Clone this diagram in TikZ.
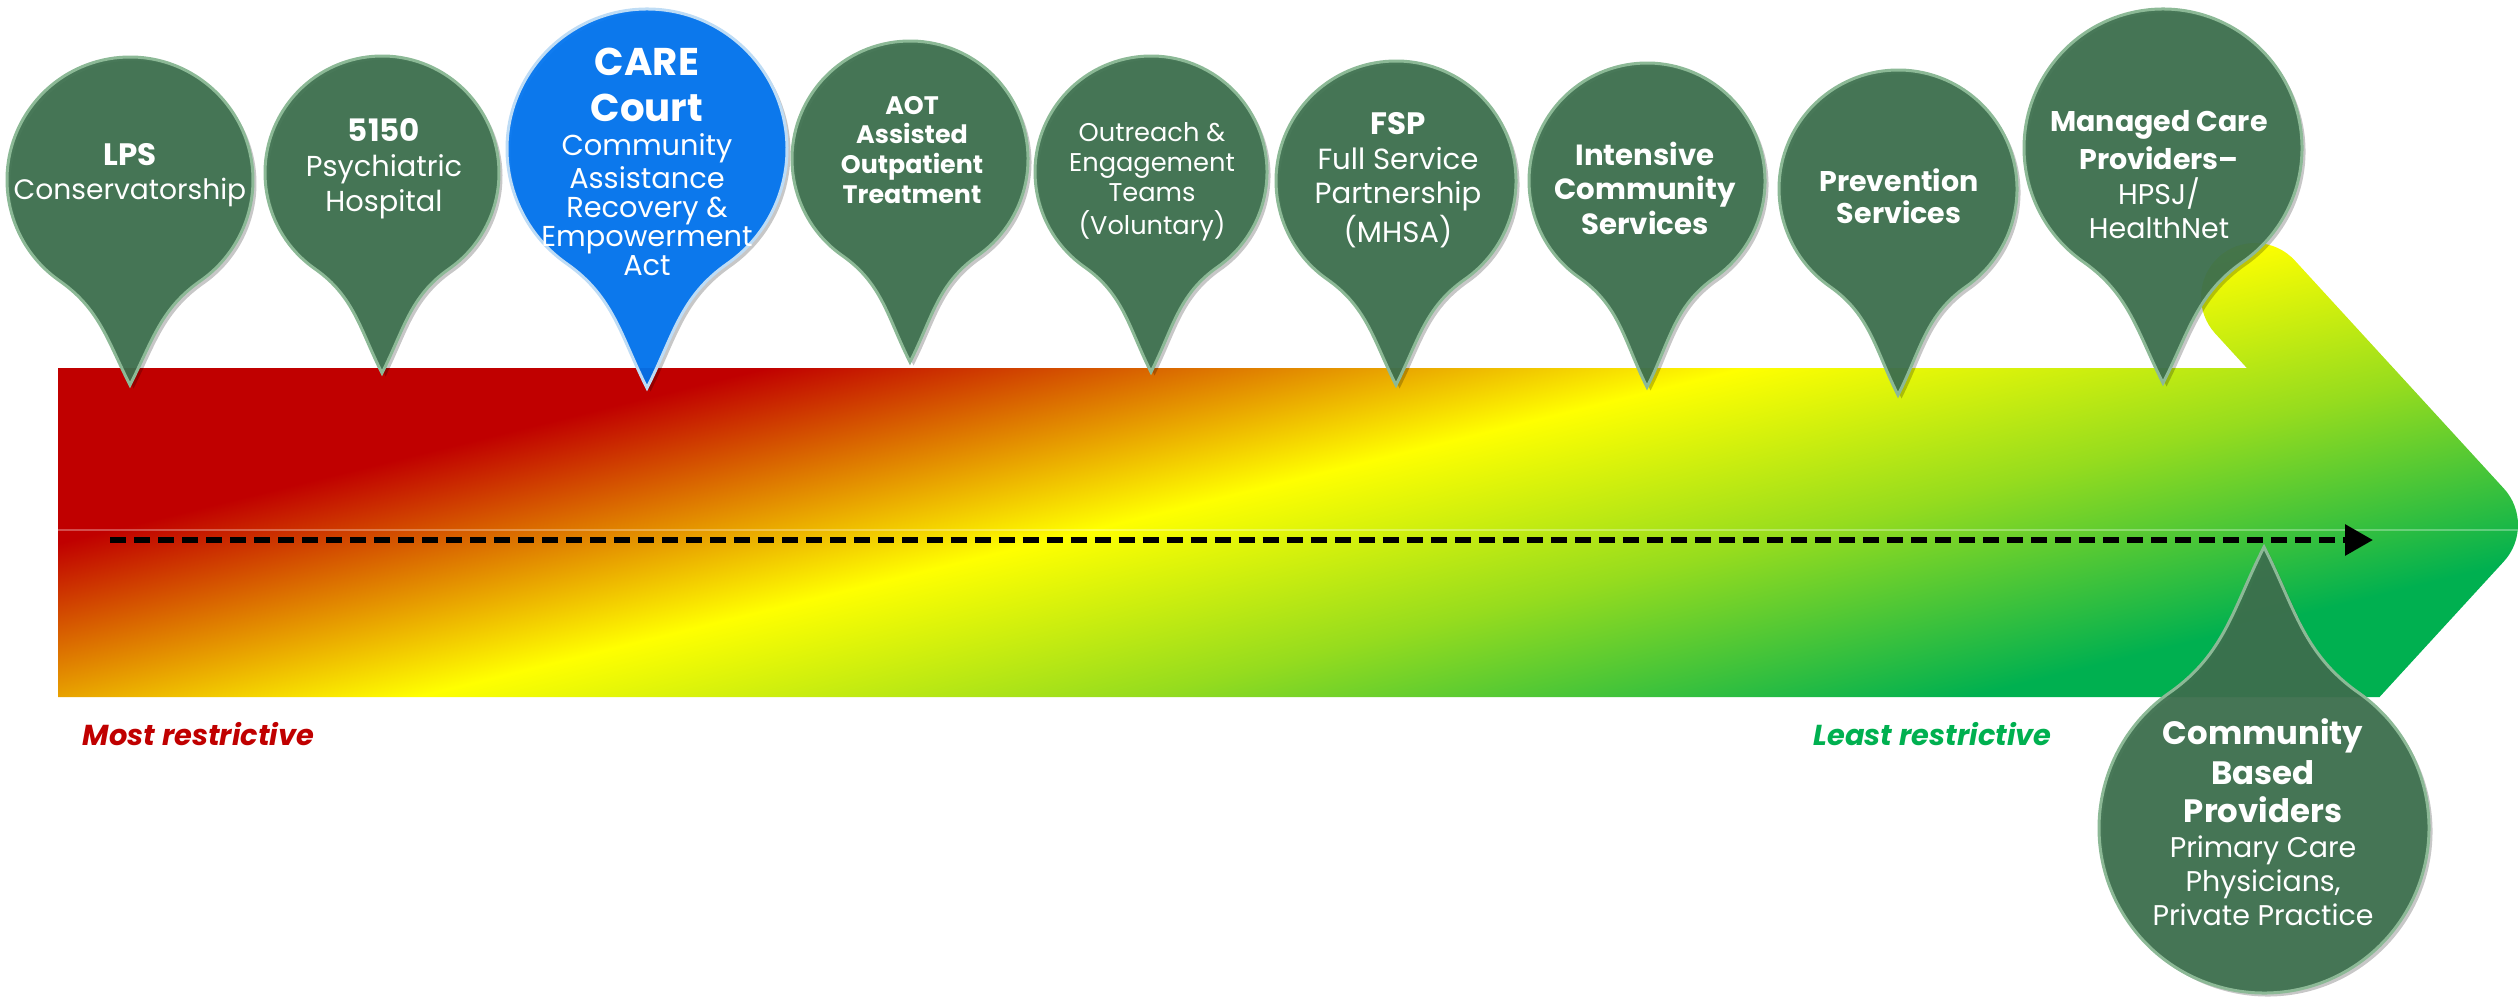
\documentclass[tikz,border=0pt]{standalone}
\usepackage{fontspec}
\setmainfont{Poppins}
\usetikzlibrary{arrows.meta,shadows}
\definecolor{arred}{RGB}{192,0,0}
\definecolor{aryellow}{RGB}{255,255,0}
\definecolor{armid}{RGB}{150,220,30}
\definecolor{argreen}{RGB}{0,176,80}
\definecolor{pingreen}{RGB}{61,112,78}
\definecolor{pinedge}{RGB}{140,185,150}
\definecolor{careblue}{RGB}{0,115,238}
\definecolor{careedge}{RGB}{190,220,245}
\pgfdeclarehorizontalshading{restr}{100bp}{color(0bp)=(arred); color(44.535bp)=(arred); color(49.073bp)=(aryellow); color(52.42bp)=(armid); color(56.265bp)=(argreen); color(100bp)=(argreen)}
\newcommand{\pinup}[5]{\path[#1,shift={(#2,#3)}] (0,-#5) to[out=117,in=-35] (235:#4) arc[start angle=235,end angle=-55,radius=#4] to[out=215,in=63] (0,-#5) -- cycle;}
\newcommand{\pindown}[5]{\path[#1,shift={(#2,#3)}] (0,#5) to[out=-117,in=35] (125:#4) arc[start angle=-235,end angle=55,radius=#4] to[out=145,in=-63] (0,#5) -- cycle;}
\newcommand{\fs}[2]{\fontsize{#1}{#2}\selectfont}
\begin{document}
\begin{tikzpicture}[x=0.01cm,y=0.01cm,
  pinbase/.style={line width=0.03cm, fill opacity=0.94,
    drop shadow={shadow xshift=0.035cm, shadow yshift=-0.035cm, opacity=0.22, fill=black}},
  greenpin/.style={pinbase, fill=pingreen, draw=pinedge},
  bluepin/.style={pinbase, fill=careblue, draw=careedge},
  pintext/.style={text=white, align=center, inner sep=0pt},
  endlabel/.style={anchor=base west, inner sep=0pt, font=\fs{8.2}{9}\bfseries\itshape},
  dashline/.style={line width=0.06cm, dash pattern=on 0.16cm off 0.08cm, -{Triangle[length=0.28cm,width=0.30cm]}}]
\useasboundingbox (0,0) rectangle (2519,-997);

% gradient arrow
\begin{scope}
  \clip (58,-368) -- (2246.8,-368) -- (2215.2,-333.5) arc[start angle=222.5,end angle=42.5,radius=54]
        -- (2503.8,-488.5) arc[start angle=42.5,end angle=-42.5,radius=54] -- (2379.5,-697) -- (58,-697) -- cycle;
  \shade[shading=restr, shading angle=-76.1] (-10,-1830) rectangle (2590,770);
  \draw[white, opacity=0.3, line width=0.02cm] (58,-530) -- (2519,-530);
\end{scope}

% pins
\pinup{greenpin}{130}{-180}{123}{205}
\pinup{greenpin}{382}{-173}{117}{200}
\pinup{bluepin}{647}{-149}{140}{239}
\pinup{greenpin}{910}{-159}{118}{203}
\pinup{greenpin}{1151}{-172}{116}{200}
\pinup{greenpin}{1396}{-181}{120}{204}
\pinup{greenpin}{1647}{-181}{118}{206}
\pinup{greenpin}{1898}{-189}{119}{206}
\pinup{greenpin}{2163}{-148}{139}{235}
\pindown{greenpin}{2264}{-828}{165}{281}

% pin texts
\node[pintext, font=\fs{8}{9.6}] (lps) at (130,-175) {{\bfseries\fs{8.8}{9.6}LPS}\\Conservatorship};
\node[pintext, font=\fs{8.2}{10}] (p5150) at (384,-169) {{\bfseries\fs{8.8}{10}5150}\\Psychiatric\\Hospital};
\node[pintext, font=\fs{8.2}{8.2}] (care) at (647,-162) {{\bfseries\fs{11}{8.2}CARE}\\[4.9pt]{\bfseries\fs{11}{8.2}Court}\\[1.5pt]Community\\Assistance\\Recovery \&\\Empowerment\\Act};
\node[pintext, font=\fs{7.2}{8.5}\bfseries] (aot) at (912,-150) {AOT\\Assisted\\Outpatient\\Treatment};
\node[pintext, font=\fs{7.3}{8.5}] (outreach) at (1152,-182) {Outreach \&\\Engagement\\Teams\\[0.9pt](Voluntary)};
\node[pintext, font=\fs{8.3}{9.9}] (fsp) at (1398,-180) {{\bfseries\fs{8.8}{9.9}FSP}\\Full Service\\Partnership\\(MHSA)};
\node[pintext, font=\fs{8.3}{9.8}\bfseries] (intensive) at (1645,-188) {Intensive\\Community\\Services};
\node[pintext, font=\fs{8.1}{9.1}\bfseries] (prevention) at (1899,-196) {Prevention\\Services};
\node[pintext, font=\fs{8.1}{9.8}] (managed) at (2159,-175) {{\bfseries Managed Care}\\[1pt]{\bfseries Providers–}\\HPSJ/\\HealthNet};
\node[pintext, font=\fs{8.1}{9.6}] (community) at (2263,-822) {{\bfseries\fs{9.2}{9.6}Community}\\[1.8pt]{\bfseries\fs{9.2}{9.6}Based}\\[1.2pt]{\bfseries\fs{9.2}{9.6}Providers}\\[0.4pt]Primary Care\\Physicians,\\Private Practice};

% dashed arrow
\coordinate (ds) at (110,-540);
\coordinate (de) at (2373,-540);
\draw[dashline] (ds) -- (de);

% end labels
\node[endlabel, text=arred] (most) at (82,-745) {Most restrictive};
\node[endlabel, text=argreen] (least) at (1813,-745) {Least restrictive};
\end{tikzpicture}
\end{document}
